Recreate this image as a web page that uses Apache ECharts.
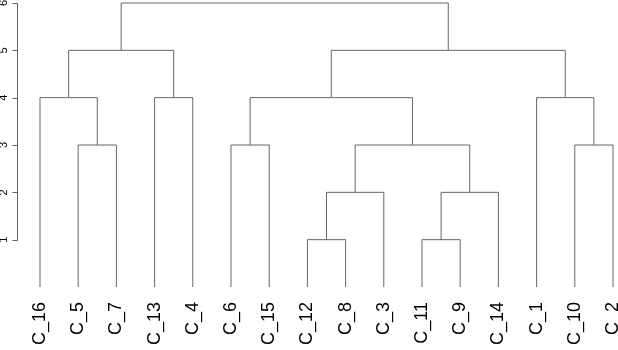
<!DOCTYPE html>
<html>
<head>
<meta charset="utf-8">
<script src="https://cdn.jsdelivr.net/npm/echarts@6/dist/echarts.min.js"></script>
<style>html,body{margin:0;padding:0;background:#fff}#c{width:618px;height:350px}</style>
</head>
<body>
<div id="c"></div>
<script>
// Leaf labels in dendrogram order (left to right)
const leafLabels = ['C_16','C_5','C_7','C_13','C_4','C_6','C_15','C_12','C_8','C_3','C_11','C_9','C_14','C_1','C_10','C_2'];
// Merge steps (R hclust style): negative = leaf position (1-based), positive = earlier merge (1-based)
const mergeLeft  = [-8, -11, 1, 2, -2, -6, 3, -15, -1, -4, 6, -14, 9, 11, 13];
const mergeRight = [-9, -12, -10, -13, -3, -7, 4, -16, 5, -5, 7, 8, 10, 12, 14];
const mergeHeight = [1, 1, 2, 2, 3, 3, 3, 3, 4, 4, 4, 4, 5, 5, 6];
const yTicks = [1, 2, 3, 4, 5, 6];

// derive node positions from the merge table
const nodeX = [], nodeH = [];
function pos(ref) {
  if (ref < 0) return { x: -ref - 1, h: 0 };
  return { x: nodeX[ref - 1], h: nodeH[ref - 1] };
}
const segs = [];
for (let i = 0; i < mergeHeight.length; i++) {
  const a = pos(mergeLeft[i]), b = pos(mergeRight[i]);
  const h = mergeHeight[i];
  nodeX.push((a.x + b.x) / 2);
  nodeH.push(h);
  segs.push([a.x, a.h, b.x, b.h, h]);
}

const xMin = -0.602, xMax = 15.131;
const lineColor = '#666';
const chart = echarts.init(document.getElementById('c'), null, { renderer: 'canvas' });
chart.setOption({
  animation: false,
  backgroundColor: '#fff',
  grid: { left: 17, right: 0, top: 3, bottom: 63, containLabel: false, outerBoundsMode: 'none' },
  xAxis: {
    type: 'value', min: xMin, max: xMax,
    axisLine: { show: false }, axisTick: { show: false }, splitLine: { show: false },
    axisLabel: {
      customValues: leafLabels.map((_, i) => i),
      formatter: v => leafLabels[Math.round(v)],
      rotate: 90, margin: 15, fontSize: 18, color: '#000',
      fontFamily: 'Liberation Sans', hideOverlap: false
    }
  },
  yAxis: {
    type: 'value', min: 0, max: 6, interval: 1,
    axisLine: { show: false }, splitLine: { show: false }, axisTick: { show: false },
    axisLabel: {
      customValues: yTicks, rotate: 90, margin: 8, fontSize: 11, color: '#000',
      fontFamily: 'Liberation Sans'
    }
  },
  series: [
    {
      type: 'custom',
      coordinateSystem: 'cartesian2d',
      clip: false,
      data: segs,
      encode: { x: [0, 2], y: [1, 4] },
      renderItem: function (params, api) {
        const xl = api.value(0), hl = api.value(1), xr = api.value(2), hr = api.value(3), h = api.value(4);
        const p = [api.coord([xl, hl]), api.coord([xl, h]), api.coord([xr, h]), api.coord([xr, hr])];
        return { type: 'polyline', shape: { points: p }, style: { stroke: lineColor, lineWidth: 1, fill: null } };
      }
    },
    {
      // y axis line (from first to last tick) plus tick marks
      type: 'custom',
      coordinateSystem: 'cartesian2d',
      clip: false, silent: true,
      data: yTicks.map(v => [xMin, v]),
      encode: { x: 0, y: 1 },
      renderItem: function (params, api) {
        const c = api.coord([api.value(0), api.value(1)]);
        const x = Math.round(c[0]) + 0.5, y = Math.round(c[1]) + 0.5;
        const children = [{ type: 'line', shape: { x1: x - 5, y1: y, x2: x, y2: y }, style: { stroke: lineColor, lineWidth: 1 } }];
        if (params.dataIndex === 0) {
          const top = api.coord([xMin, yTicks[yTicks.length - 1]]);
          children.push({ type: 'line', shape: { x1: x, y1: y, x2: x, y2: Math.round(top[1]) + 0.5 }, style: { stroke: lineColor, lineWidth: 1 } });
        }
        return { type: 'group', children: children };
      }
    }
  ]
});
</script>
</body>
</html>
